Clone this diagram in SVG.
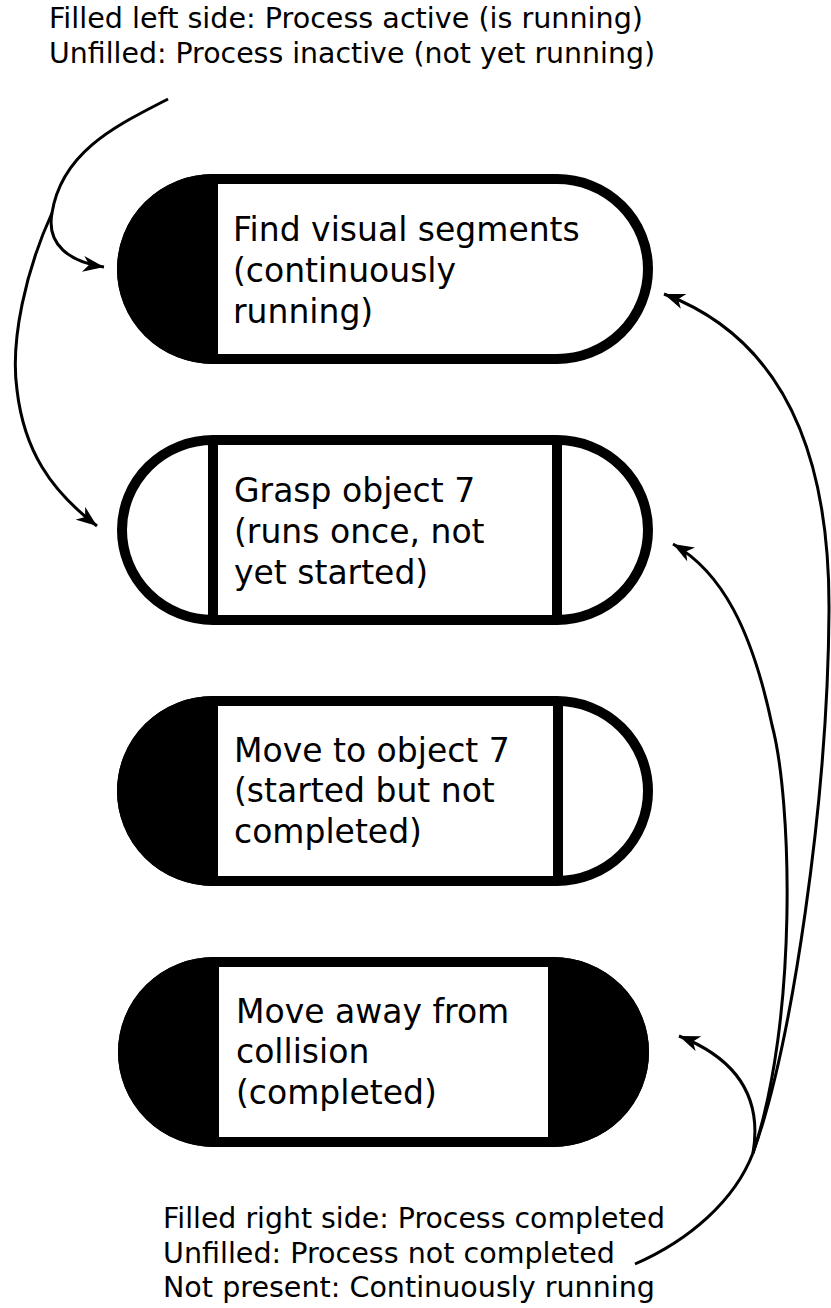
<svg xmlns="http://www.w3.org/2000/svg" width="831" height="1308" viewBox="0 0 831 1308">
  <defs>
    <style>
      .legend { font-family: "DejaVu Sans", "Liberation Sans", sans-serif; font-size: 28.4px; fill: #000; }
      .label { font-family: "DejaVu Sans", "Liberation Sans", sans-serif; font-size: 33px; fill: #000; }
      .outline { fill: #fff; stroke: #000; stroke-width: 10; stroke-linejoin: round; }
      .cap { fill: #000; stroke: #000; stroke-width: 10; stroke-linejoin: round; }
      .divider { stroke: #000; stroke-width: 10; }
      .wire { fill: none; stroke: #000; stroke-width: 3; }
    </style>
    <marker id="arrow" markerUnits="userSpaceOnUse" viewBox="0 0 22 16" refX="21" refY="8" markerWidth="22" markerHeight="16" orient="auto">
      <path d="M21,8 L0,0 L6,8 L0,16 Z" fill="#000"/>
    </marker>
  </defs>

  <rect width="831" height="1308" fill="#fff"/>

  <!-- legend: left side -->
  <g id="legend-left">
    <text class="legend" x="49" y="28" textLength="594" lengthAdjust="spacingAndGlyphs">Filled left side: Process active (is running)</text>
    <text class="legend" x="49" y="63" textLength="606" lengthAdjust="spacingAndGlyphs">Unfilled: Process inactive (not yet running)</text>
  </g>

  <!-- node 1: left filled, no right part (continuously running) -->
  <g id="node-find-segments">
    <path class="outline" d="M213,179 H557 A91,90 0 0 1 557,359 H213 A91,90 0 0 1 213,179 Z"/>
    <path class="cap" d="M213,179 A91,90 0 0 0 213,359 Z"/>
    <text class="label" x="233" y="241">Find visual segments</text>
    <text class="label" x="233" y="282">(continuously</text>
    <text class="label" x="233" y="323">running)</text>
  </g>

  <!-- node 2: both sides unfilled -->
  <g id="node-grasp">
    <path class="outline" d="M213,440 H557 A91,90 0 0 1 557,620 H213 A91,90 0 0 1 213,440 Z"/>
    <line class="divider" x1="213" y1="440" x2="213" y2="620"/>
    <line class="divider" x1="557" y1="440" x2="557" y2="620"/>
    <text class="label" x="234" y="502">Grasp object 7</text>
    <text class="label" x="234" y="543">(runs once, not</text>
    <text class="label" x="234" y="584">yet started)</text>
  </g>

  <!-- node 3: left filled, right unfilled -->
  <g id="node-move-to">
    <path class="outline" d="M213,701 H557 A91,90 0 0 1 557,881 H213 A91,90 0 0 1 213,701 Z"/>
    <path class="cap" d="M213,701 A91,90 0 0 0 213,881 Z"/>
    <line class="divider" x1="558" y1="701" x2="558" y2="881"/>
    <text class="label" x="234" y="762">Move to object 7</text>
    <text class="label" x="234" y="802">(started but not</text>
    <text class="label" x="234" y="843">completed)</text>
  </g>

  <!-- node 4: both sides filled -->
  <g id="node-move-away">
    <path class="outline" d="M214,962 H553 A91,90 0 0 1 553,1142 H214 A91,90 0 0 1 214,962 Z"/>
    <path class="cap" d="M214,962 A91,90 0 0 0 214,1142 Z"/>
    <path class="cap" d="M553,962 A91,90 0 0 1 553,1142 Z"/>
    <text class="label" x="236" y="1023">Move away from</text>
    <text class="label" x="236" y="1063">collision</text>
    <text class="label" x="236" y="1104">(completed)</text>
  </g>

  <!-- legend: right side -->
  <g id="legend-right">
    <text class="legend" x="163" y="1228" textLength="502" lengthAdjust="spacingAndGlyphs">Filled right side: Process completed</text>
    <text class="legend" x="163" y="1263" textLength="452" lengthAdjust="spacingAndGlyphs">Unfilled: Process not completed</text>
    <text class="legend" x="163" y="1297" textLength="492" lengthAdjust="spacingAndGlyphs">Not present: Continuously running</text>
  </g>

  <!-- connectors -->
  <g id="connectors">
    <path class="wire" d="M168,99 C120,124 62,150 52,213"/>
    <path class="wire" marker-end="url(#arrow)" d="M52,213 C46,245 70,262 104,267"/>
    <path class="wire" marker-end="url(#arrow)" d="M52,213 C26,270 10,340 17,390 C24,450 50,490 97,526"/>

    <path class="wire" d="M635,1264 C690,1240 735,1200 753,1153"/>
    <path class="wire" marker-end="url(#arrow)" d="M753,1153 C762,1100 740,1060 679,1036"/>
    <path class="wire" marker-end="url(#arrow)" d="M753,1153 C798,1020 792,800 772,725 C752,630 722,572 673,544"/>
    <path class="wire" marker-end="url(#arrow)" d="M753,1153 C792,1045 828,800 829,610 C830,420 760,330 664,294"/>
  </g>
</svg>
